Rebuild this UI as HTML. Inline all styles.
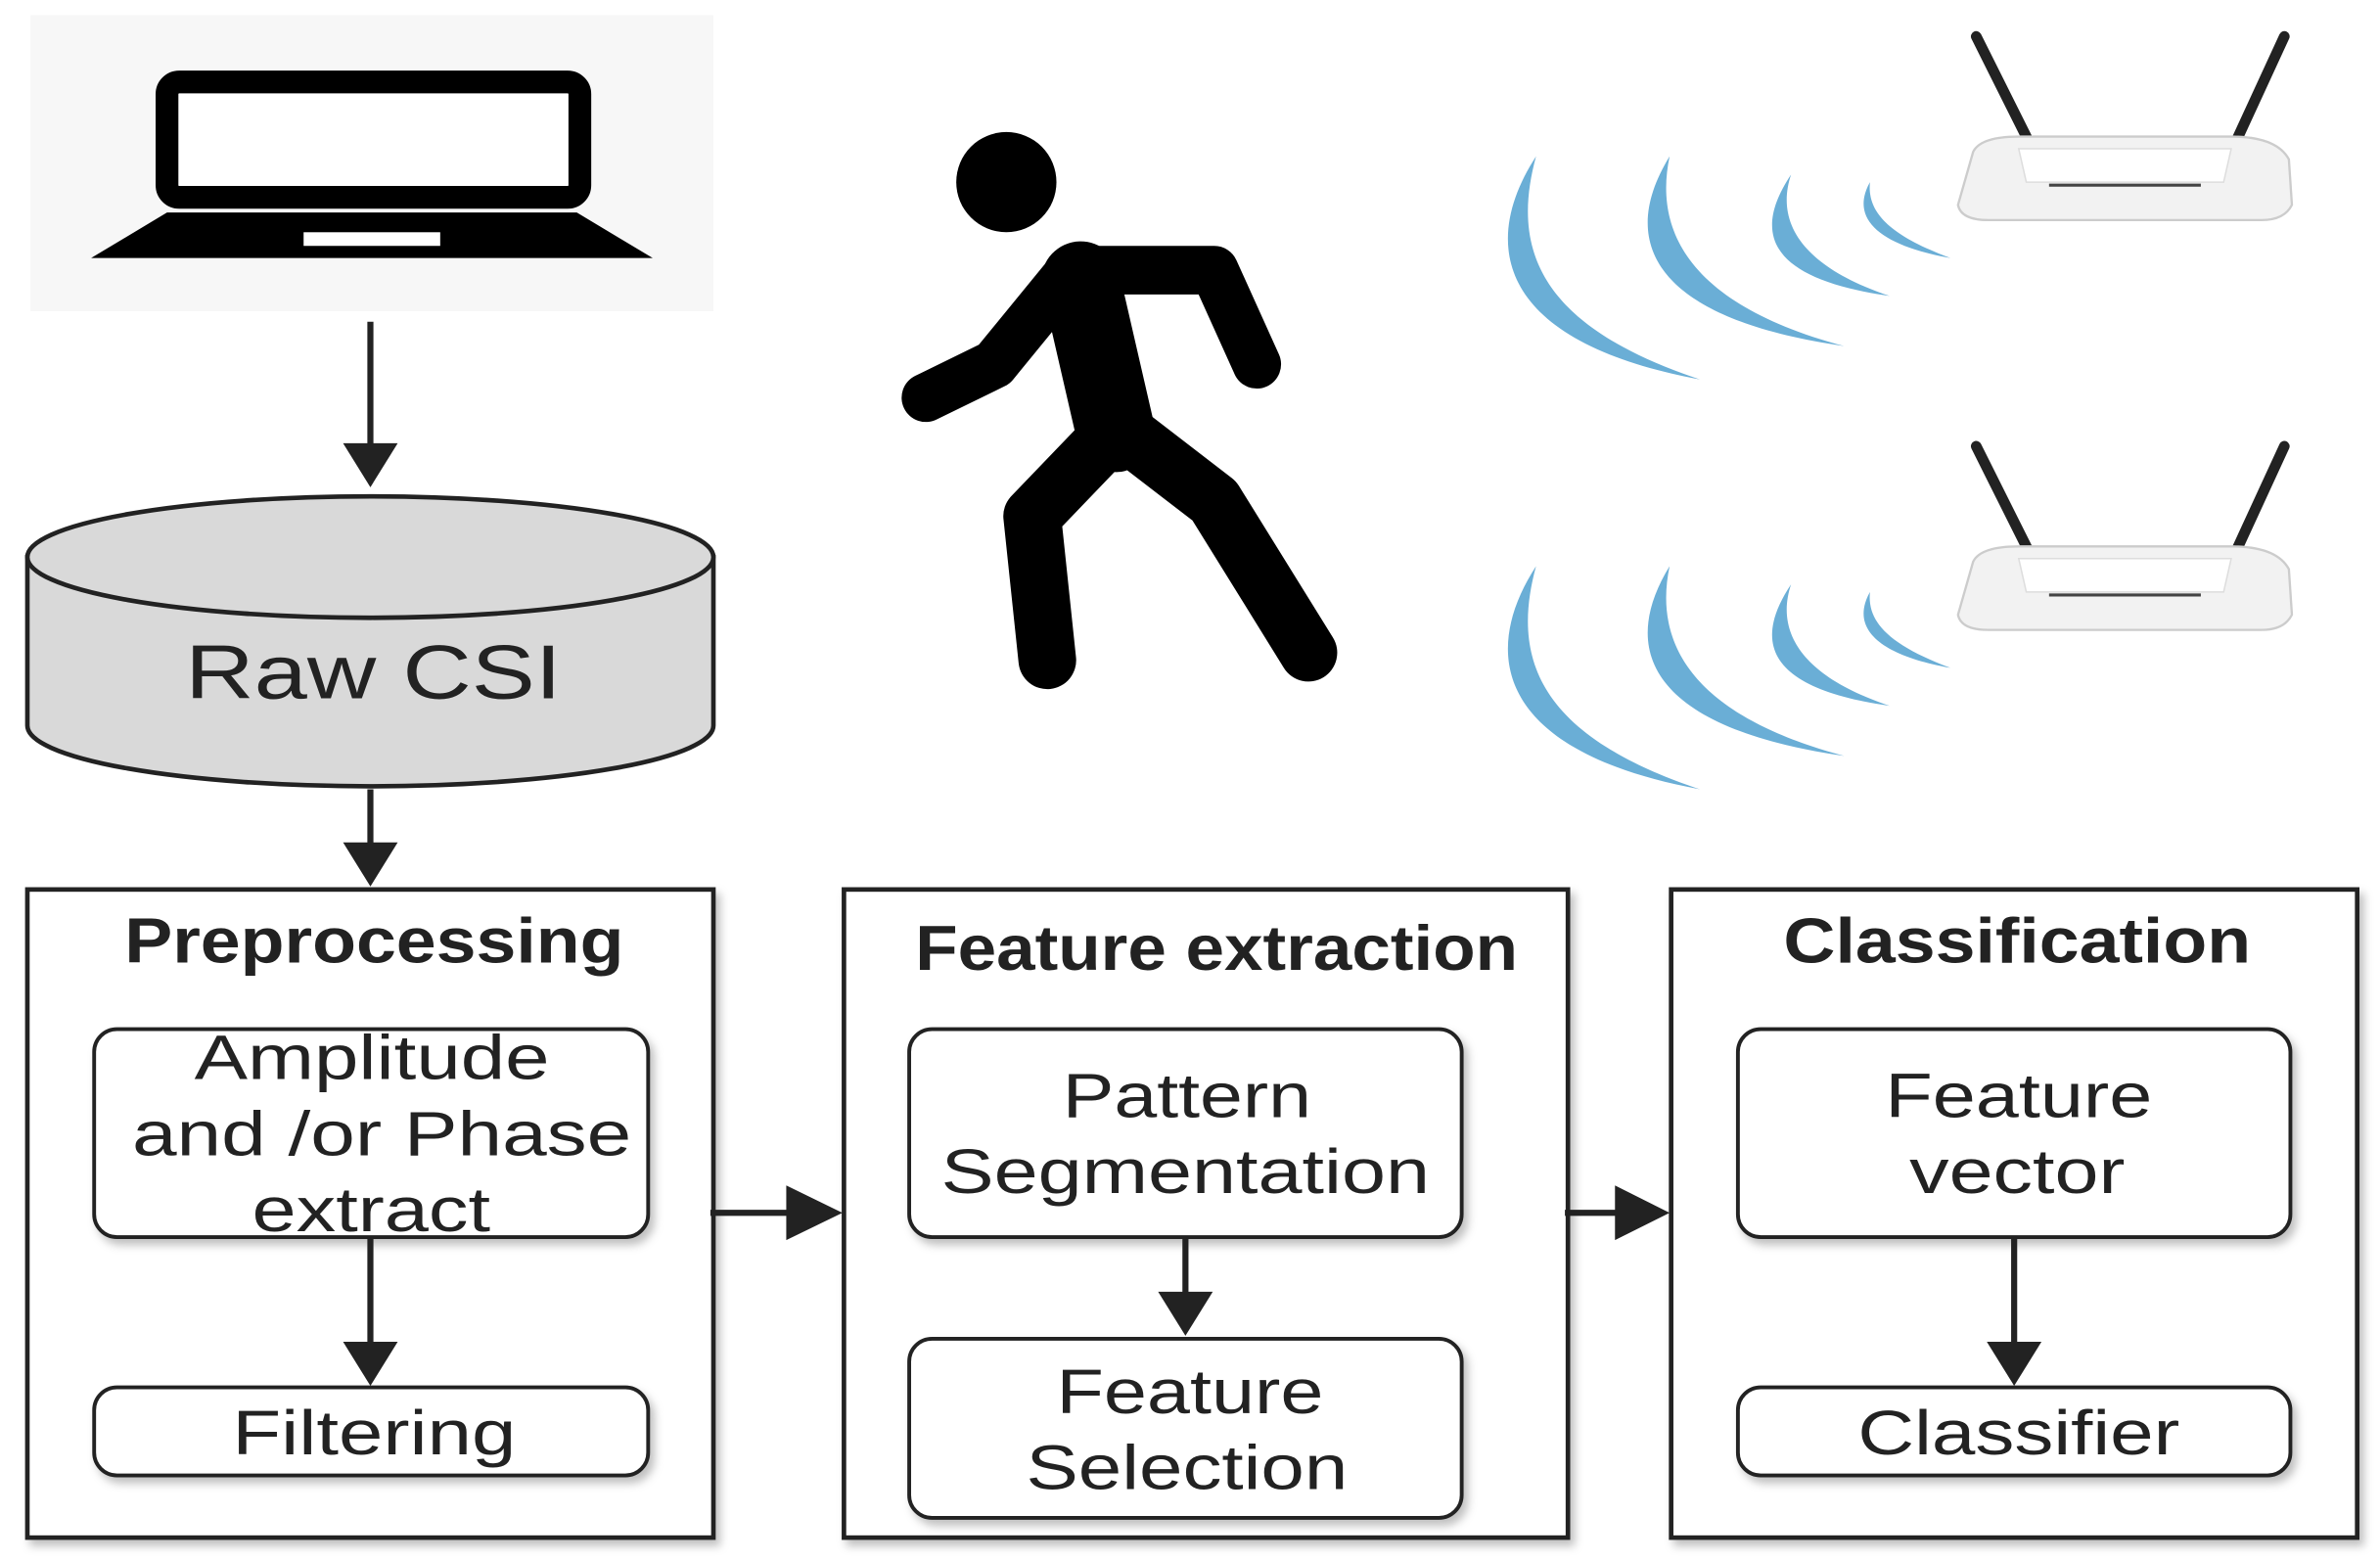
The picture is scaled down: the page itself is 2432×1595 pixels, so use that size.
<!DOCTYPE html>
<html><head><meta charset="utf-8"><style>
html,body{margin:0;padding:0;background:#fff;}
svg{display:block;}
text{font-family:"Liberation Sans",sans-serif;}
</style></head><body>
<svg width="2432" height="1595" viewBox="0 0 1568 1028.4" xmlns="http://www.w3.org/2000/svg">
<defs>
<filter id="sh" x="-5%" y="-5%" width="115%" height="115%"><feDropShadow dx="3" dy="4" stdDeviation="3" flood-color="#000" flood-opacity="0.25"/></filter>
</defs>
<!-- laptop -->
<rect x="20" y="10" width="450" height="195" fill="#f7f7f7"/>
<rect x="110" y="54" width="272" height="76" rx="8" fill="#fff" stroke="#000" stroke-width="15"/>
<path d="M110,140 L380,140 L430,170 L60,170 Z" fill="#000"/>
<rect x="200" y="153" width="90" height="9" fill="#fff"/>
<!-- arrow 1 -->
<line x1="244" y1="212" x2="244" y2="295" stroke="#222" stroke-width="4"/>
<path d="M226,292 L262,292 L244,321 Z" fill="#222"/>
<!-- cylinder -->
<path d="M18,367 L18,478 A226,40 0 0 0 470,478 L470,367 Z" fill="#d9d9d9" stroke="#222" stroke-width="3"/>
<ellipse cx="244" cy="367" rx="226" ry="40" fill="#d9d9d9" stroke="#222" stroke-width="3"/>
<text x="122" y="460" font-size="50" textLength="248" lengthAdjust="spacingAndGlyphs" fill="#222">Raw CSI</text>
<!-- arrow 2 -->
<line x1="244" y1="520" x2="244" y2="558" stroke="#222" stroke-width="4"/>
<path d="M226,555 L262,555 L244,584 Z" fill="#222"/>
<!-- person -->
<g stroke="#000" stroke-linecap="round" stroke-linejoin="round" fill="none">
<circle cx="663" cy="120" r="33" fill="#000" stroke="none"/>
<path d="M712,185 L735,285" stroke-width="52"/>
<path d="M700,185 L655,240 L610,262" stroke-width="32"/>
<path d="M712,178 L800,178 L828,240" stroke-width="32"/>
<path d="M735,280 L800,330 L862,430" stroke-width="38"/>
<path d="M728,290 L680,340 L690,435" stroke-width="38"/>
</g>
<!-- waves -->
<g fill="#6aaed6">
<g id="wv">
<path d="M1012,103 C975,160 985,225 1120,250 C1015,215 995,165 1012,103 Z"/>
<path d="M1100,103 C1065,160 1090,210 1215,228 C1110,200 1090,150 1100,103 Z"/>
<path d="M1180,115 C1150,160 1175,185 1245,195 C1185,175 1170,145 1180,115 Z"/>
<path d="M1232,120 C1218,145 1240,162 1285,170 C1245,155 1230,140 1232,120 Z"/>
</g>
<use href="#wv" transform="translate(0,270)"/>
</g>
<!-- routers -->
<g id="rt">
<line x1="1302" y1="24" x2="1340" y2="100" stroke="#222" stroke-width="7" stroke-linecap="round"/>
<line x1="1505" y1="24" x2="1470" y2="100" stroke="#222" stroke-width="7" stroke-linecap="round"/>
<path d="M1300,100 Q1305,90 1330,90 L1470,90 Q1500,90 1508,105 L1510,135 Q1505,145 1490,145 L1310,145 Q1292,145 1290,135 Z" fill="#f2f2f2" stroke="#ccc" stroke-width="1.5"/>
<path d="M1330,98 L1470,98 L1465,120 L1335,120 Z" fill="#fff" stroke="#ddd"/>
<line x1="1350" y1="122" x2="1450" y2="122" stroke="#444" stroke-width="2"/>
</g>
<use href="#rt" transform="translate(0,270)"/>
<!-- main boxes -->
<g fill="#fff" stroke="#222" stroke-width="3" filter="url(#sh)">
<rect x="18" y="586" width="452" height="427"/>
<rect x="556" y="586" width="477" height="427"/>
<rect x="1101" y="586" width="452" height="427"/>
</g>
<g font-weight="bold" font-size="42" fill="#222" lengthAdjust="spacingAndGlyphs">
<text x="82" y="634" textLength="329" lengthAdjust="spacingAndGlyphs">Preprocessing</text>
<text x="603" y="639" textLength="397" lengthAdjust="spacingAndGlyphs">Feature extraction</text>
<text x="1175" y="634" textLength="308" lengthAdjust="spacingAndGlyphs">Classification</text>
</g>
<g fill="#fff" stroke="#222" stroke-width="2.5" filter="url(#sh)">
<rect x="62" y="678" width="365" height="137" rx="15"/>
<rect x="62" y="914" width="365" height="58" rx="15"/>
<rect x="599" y="678" width="364" height="137" rx="15"/>
<rect x="599" y="882" width="364" height="118" rx="15"/>
<rect x="1145" y="678" width="364" height="137" rx="15"/>
<rect x="1145" y="914" width="364" height="58" rx="15"/>
</g>
<g font-size="41" fill="#222">
<text x="128" y="711" textLength="234" lengthAdjust="spacingAndGlyphs">Amplitude</text>
<text x="87" y="761" textLength="329" lengthAdjust="spacingAndGlyphs">and /or Phase</text>
<text x="166" y="811" textLength="157" lengthAdjust="spacingAndGlyphs">extract</text>
<text x="153" y="958" textLength="187" lengthAdjust="spacingAndGlyphs">Filtering</text>
<text x="700" y="736" textLength="164" lengthAdjust="spacingAndGlyphs">Pattern</text>
<text x="620" y="786" textLength="322" lengthAdjust="spacingAndGlyphs">Segmentation</text>
<text x="696" y="931" textLength="176" lengthAdjust="spacingAndGlyphs">Feature</text>
<text x="676" y="981" textLength="212" lengthAdjust="spacingAndGlyphs">Selection</text>
<text x="1242" y="736" textLength="176" lengthAdjust="spacingAndGlyphs">Feature</text>
<text x="1258" y="786" textLength="142" lengthAdjust="spacingAndGlyphs">vector</text>
<text x="1224" y="958" textLength="212" lengthAdjust="spacingAndGlyphs">Classifier</text>
</g>
<!-- connectors -->
<g stroke="#222" stroke-width="4">
<line x1="244" y1="815" x2="244" y2="886"/>
<line x1="781" y1="815" x2="781" y2="853"/>
<line x1="1327" y1="815" x2="1327" y2="886"/>
<line x1="468" y1="799" x2="522" y2="799"/>
<line x1="1031" y1="799" x2="1068" y2="799"/>
</g>
<g fill="#222">
<path d="M226,884 L262,884 L244,913 Z"/>
<path d="M763,851 L799,851 L781,880 Z"/>
<path d="M1309,884 L1345,884 L1327,913 Z"/>
<path d="M518,781 L518,817 L555,799 Z"/>
<path d="M1064,781 L1064,817 L1100,799 Z"/>
</g>
</svg>
</body></html>
